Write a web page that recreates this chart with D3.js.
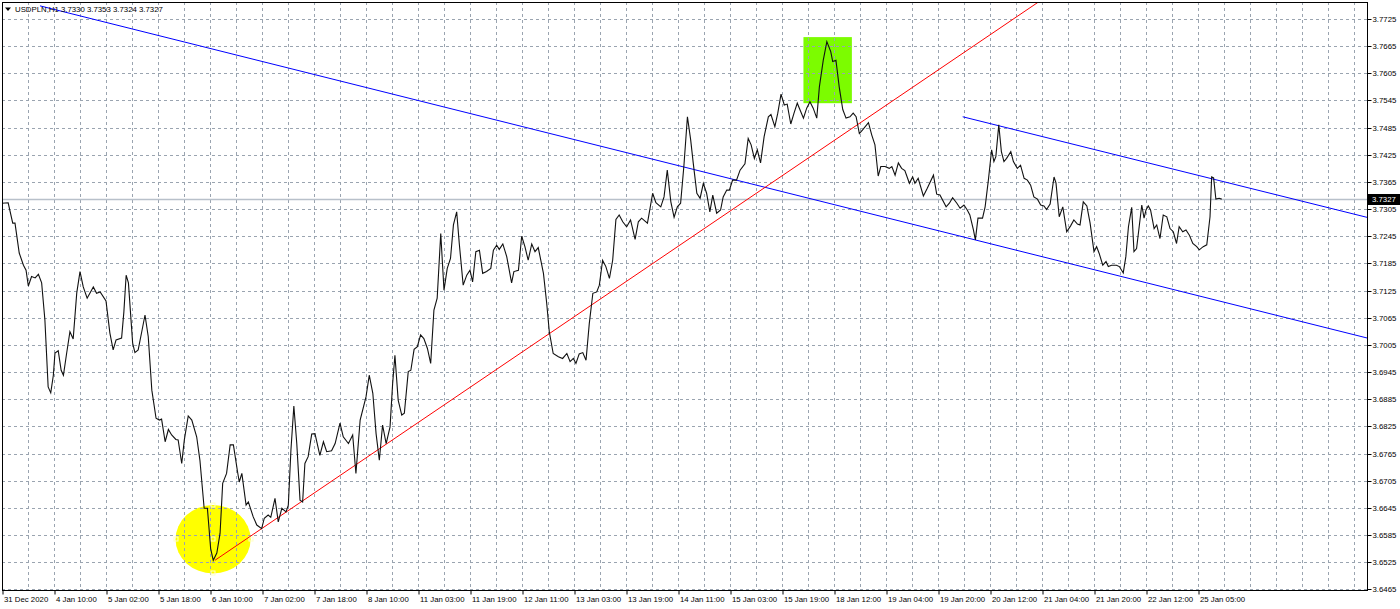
<!DOCTYPE html>
<html><head><meta charset="utf-8">
<script src="https://cdn.jsdelivr.net/npm/d3@7/dist/d3.min.js"></script>
<style>
html,body{margin:0;padding:0;background:#fff;overflow:hidden;}
svg{display:block;}
text{font-family:"Liberation Sans",Arial,sans-serif;}
</style>
</head><body>
<svg id="chart" width="1400" height="609"></svg>
<script>
// ---------------- DATA ----------------
const symbolTitle = "USDPLN,H1";
const titleQuotes = ["3.7330", "3.7353", "3.7324", "3.7327"];
const lastPrice = 3.7327;

const timeLabels = ["31 Dec 2020","4 Jan 10:00","5 Jan 02:00","5 Jan 18:00","6 Jan 10:00","7 Jan 02:00",
  "7 Jan 18:00","8 Jan 10:00","11 Jan 03:00","11 Jan 19:00","12 Jan 11:00","13 Jan 03:00","13 Jan 19:00",
  "14 Jan 11:00","15 Jan 03:00","15 Jan 19:00","18 Jan 12:00","19 Jan 04:00","19 Jan 20:00","20 Jan 12:00",
  "21 Jan 04:00","21 Jan 20:00","22 Jan 12:00","25 Jan 05:00"];
const barsPerLabel = 16;
const barsPerGrid = 8;
const totalBars = 420;

const priceTicks = ["3.7725","3.7665","3.7605","3.7545","3.7485","3.7425","3.7365","3.7305","3.7245",
  "3.7185","3.7125","3.7065","3.7005","3.6945","3.6885","3.6825","3.6765","3.6705","3.6645","3.6585",
  "3.6525","3.6465"];

// bar position (hours from chart start) of each traced vertex
const bars = [0,1.9,3.3,4.0,5.3,6.6,7.4,8.1,9.1,10.2,11.2,12.2,13.2,14.2,15.0,15.8,16.3,17.3,18.2,18.9,
 19.9,20.9,21.9,23.0,24.0,25.0,26.2,28.1,29.1,30.2,32.0,33.2,34.2,35.1,36.8,37.5,38.2,38.9,40.2,40.9,
 41.9,43.0,44.0,45.0,46.1,47.4,48.4,49.1,50.2,51.2,52.2,53.5,54.2,55.3,56.1,57.3,58.4,59.9,60.9,62.2,
 63.2,64.2,65.0,66.1,67.1,67.9,69.1,70.2,71.2,72.4,73.0,73.8,75.1,75.8,77.3,78.4,79.9,80.7,81.9,82.7,
 84.0,85.0,86.1,87.4,88.1,88.9,89.8,90.7,91.7,92.5,93.2,94.2,95.3,96.3,97.8,98.9,99.9,101.4,102.5,104.0,
 105.0,106.6,107.9,108.9,110.2,112.0,113.0,114.1,115.1,116.1,117.1,118.2,119.4,120.2,120.9,121.9,123.0,123.8,125.0,125.8,
 126.8,127.8,128.8,129.8,130.9,131.9,132.9,133.9,135.0,136.0,137.0,138.0,138.9,139.9,140.7,141.9,143.0,144.0,144.8,145.8,
 146.9,147.9,149.1,150.4,151.2,152.2,153.0,154.1,155.3,156.8,157.5,158.9,159.9,160.9,161.9,163.0,164.0,165.0,166.6,167.6,
 168.4,169.6,171.2,172.5,173.8,174.8,175.8,176.6,177.6,178.7,179.7,180.7,181.8,183.0,183.8,184.8,185.8,186.9,187.9,188.9,
 189.9,191.0,192.2,193.4,194.8,195.8,196.8,198.6,200.2,201.2,202.7,203.7,204.7,205.8,206.8,207.8,208.8,209.8,210.9,211.9,
 212.7,213.8,214.8,215.8,216.8,217.8,218.7,219.9,221.1,221.9,223.0,223.8,224.8,226.0,227.1,228.6,229.6,230.5,231.5,232.4,
 233.4,234.5,235.8,236.6,237.8,238.7,239.7,240.7,241.6,242.7,243.7,244.7,246.6,247.6,248.6,249.6,250.7,251.5,252.7,253.8,
 255.0,255.6,256.6,257.6,258.7,259.7,260.9,261.9,262.8,263.8,264.8,266.6,267.6,268.6,269.6,270.4,271.7,273.0,273.8,274.8,
 275.8,276.8,277.8,279.2,280.2,280.9,281.9,283.5,284.7,286.6,287.6,288.6,290.5,291.5,292.5,293.8,294.8,296.0,297.0,297.8,
 298.9,299.5,300.3,301.7,302.5,303.5,304.5,305.2,305.8,306.7,307.5,308.3,309.1,310.4,311.2,312.4,313.4,314.5,315.5,316.5,
 317.5,318.6,319.6,320.6,321.4,322.5,323.7,324.3,325.3,326.4,327.6,328.8,329.8,330.9,331.7,332.7,333.8,334.8,336.0,336.8,
 337.6,338.7,339.7,340.4,341.4,342.9,343.8,345.0,345.8,346.6,347.6,348.3,349.1,349.9,350.7,351.4,352.0,352.7,353.4,354.5,
 355.3,356.3,357.3,358.4,359.4,360.4,361.4,362.2,363.3,364.3,365.3,366.4,367.6,368.4,369.6,370.7,371.7,372.2,372.8,373.5,
 374.5,375.3];

const prices = [3.7318,3.7319,3.7274,3.7274,3.7208,3.7181,3.7170,3.7135,3.7156,3.7153,3.7161,3.7142,3.7060,3.6912,3.6899,3.6938,3.6987,3.6992,3.6949,3.6938,
 3.6987,3.7034,3.7018,3.7120,3.7167,3.7133,3.7108,3.7133,3.7119,3.7122,3.7102,3.7031,3.6994,3.7016,3.7020,3.7078,3.7159,3.7142,3.7009,3.6988,
 3.6994,3.7034,3.7071,3.7023,3.6905,3.6843,3.6839,3.6841,3.6791,3.6818,3.6806,3.6796,3.6795,3.6743,3.6795,3.6848,3.6839,3.6802,3.6750,3.6644,
 3.6644,3.6555,3.6529,3.6545,3.6589,3.6699,3.6721,3.6784,3.6784,3.6728,3.6702,3.6721,3.6651,3.6658,3.6625,3.6607,3.6599,3.6622,3.6629,3.6624,
 3.6666,3.6614,3.6644,3.6636,3.6651,3.6772,3.6870,3.6787,3.6662,3.6658,3.6743,3.6758,3.6808,3.6809,3.6761,3.6791,3.6769,3.6771,3.6787,3.6832,
 3.6802,3.6787,3.6806,3.6721,3.6839,3.6890,3.6938,3.6898,3.6809,3.6750,3.6828,3.6787,3.6824,3.6920,3.6982,3.6883,3.6850,3.6854,3.6946,3.6949,
 3.6995,3.7001,3.7027,3.7019,3.6997,3.6964,3.7082,3.7108,3.7251,3.7126,3.7174,3.7196,3.7270,3.7299,3.7229,3.7137,3.7159,3.7170,3.7144,3.7211,
 3.7214,3.7163,3.7167,3.7174,3.7214,3.7225,3.7216,3.7228,3.7200,3.7142,3.7167,3.7170,3.7245,3.7222,3.7192,3.7228,3.7211,3.7220,3.7163,3.7097,
 3.7034,3.6986,3.6979,3.6975,3.6986,3.6968,3.6975,3.6964,3.6985,3.6988,3.6971,3.7052,3.7119,3.7122,3.7137,3.7192,3.7178,3.7152,3.7192,3.7282,
 3.7292,3.7277,3.7266,3.7281,3.7238,3.7277,3.7285,3.7274,3.7340,3.7319,3.7310,3.7332,3.7391,3.7321,3.7287,3.7310,3.7318,3.7399,3.7509,3.7458,
 3.7406,3.7340,3.7329,3.7362,3.7340,3.7299,3.7336,3.7296,3.7303,3.7332,3.7347,3.7347,3.7369,3.7369,3.7391,3.7405,3.7461,3.7447,3.7417,3.7436,
 3.7407,3.7465,3.7509,3.7514,3.7487,3.7517,3.7559,3.7535,3.7537,3.7493,3.7517,3.7539,3.7506,3.7528,3.7542,3.7528,3.7506,3.7575,3.7634,3.7675,
 3.7653,3.7631,3.7634,3.7575,3.7525,3.7506,3.7509,3.7517,3.7509,3.7472,3.7480,3.7496,3.7469,3.7447,3.7378,3.7399,3.7399,3.7395,3.7399,3.7380,
 3.7407,3.7395,3.7390,3.7362,3.7376,3.7362,3.7373,3.7334,3.7351,3.7380,3.7338,3.7336,3.7310,3.7318,3.7330,3.7318,3.7307,3.7314,3.7303,3.7292,
 3.7259,3.7237,3.7285,3.7285,3.7310,3.7369,3.7436,3.7410,3.7421,3.7491,3.7432,3.7410,3.7417,3.7432,3.7410,3.7395,3.7402,3.7373,3.7369,3.7358,
 3.7332,3.7327,3.7314,3.7312,3.7304,3.7316,3.7376,3.7363,3.7288,3.7310,3.7255,3.7268,3.7281,3.7272,3.7270,3.7321,3.7312,3.7274,3.7211,3.7222,
 3.7207,3.7181,3.7189,3.7178,3.7181,3.7181,3.7178,3.7164,3.7200,3.7266,3.7309,3.7211,3.7218,3.7266,3.7314,3.7285,3.7303,3.7312,3.7303,3.7262,
 3.7270,3.7240,3.7292,3.7288,3.7262,3.7255,3.7229,3.7266,3.7255,3.7259,3.7248,3.7229,3.7222,3.7215,3.7222,3.7226,3.7288,3.7376,3.7374,3.7327,
 3.7329,3.7327];

// chart objects (anchor bar, anchor price)
const redTrendBars = [65.5, 304];
const redTrendPrices = [3.6529, 3.7690];
const blueLowerBars = [11.7, 299.4];
const blueLowerPrices = [3.7754, 3.7237];
const blueUpperBars = [295.6, 372.3];
const blueUpperPrices = [3.7509, 3.7372];
const ellipseBars = [53.4, 76.5];
const ellipsePrices = [3.6651, 3.6500];
const rectBars = [246.6, 261.5];
const rectPrices = [3.7685, 3.7539];

// ---------------- DRAWING ----------------
const W = 1400, H = 609;
const plot = {left: 2, right: 1367, top: 2, bottom: 590};
const svg = d3.select("#chart");

const x = d3.scaleLinear().domain([0, totalBars]).range([plot.left, plot.right]);
const y = d3.scaleLinear().domain([3.6465, 3.7725]).range([589.3, 19]);
const crisp = v => Math.round(v) + 0.5;

svg.append("rect").attr("width", W).attr("height", H).attr("fill", "#fff");

svg.append("defs").append("clipPath").attr("id", "plotClip")
  .append("rect").attr("x", plot.left).attr("y", plot.top)
  .attr("width", plot.right - plot.left).attr("height", plot.bottom - plot.top);

const g = svg.append("g").attr("clip-path", "url(#plotClip)");

// filled objects (background)
g.append("ellipse")
  .attr("cx", (x(ellipseBars[0]) + x(ellipseBars[1])) / 2)
  .attr("cy", (y(ellipsePrices[0]) + y(ellipsePrices[1])) / 2)
  .attr("rx", Math.abs(x(ellipseBars[1]) - x(ellipseBars[0])) / 2)
  .attr("ry", Math.abs(y(ellipsePrices[1]) - y(ellipsePrices[0])) / 2)
  .attr("fill", "#ffff00");

g.append("rect")
  .attr("x", x(rectBars[0])).attr("y", y(rectPrices[0]))
  .attr("width", x(rectBars[1]) - x(rectBars[0]))
  .attr("height", y(rectPrices[1]) - y(rectPrices[0]))
  .attr("fill", "#7cfc00");

// grid
const gridColor = "#9aa4b0";
const priceVals = priceTicks.map(Number);
g.append("g").selectAll("line").data(priceVals).join("line")
  .attr("x1", plot.left).attr("x2", plot.right)
  .attr("y1", d => crisp(y(d))).attr("y2", d => crisp(y(d)))
  .attr("stroke", gridColor).attr("stroke-width", 1).attr("stroke-dasharray", "3,3");

const gridBars = d3.range(barsPerGrid, totalBars, barsPerGrid);
g.append("g").selectAll("line").data(gridBars).join("line")
  .attr("x1", d => crisp(x(d))).attr("x2", d => crisp(x(d)))
  .attr("y1", plot.top).attr("y2", plot.bottom)
  .attr("stroke", gridColor).attr("stroke-width", 1).attr("stroke-dasharray", "3,3");

// last price line
g.append("line")
  .attr("x1", plot.left).attr("x2", plot.right)
  .attr("y1", crisp(y(lastPrice))).attr("y2", crisp(y(lastPrice)))
  .attr("stroke", "#b8c0ca").attr("stroke-width", 1.5);

// ellipse handles
const ecx = (x(ellipseBars[0]) + x(ellipseBars[1])) / 2;
const ecy = (y(ellipsePrices[0]) + y(ellipsePrices[1])) / 2;
const handles = [[ecx, y(ellipsePrices[0])], [ecx, y(ellipsePrices[1])], [x(ellipseBars[0]), ecy], [x(ellipseBars[1]), ecy], [ecx, ecy]];
g.append("g").selectAll("rect").data(handles).join("rect")
  .attr("x", d => Math.round(d[0]) - 2).attr("y", d => Math.round(d[1]) - 2)
  .attr("width", 4).attr("height", 4)
  .attr("fill", "none").attr("stroke", "#ffffc8").attr("stroke-width", 1);

// trend lines (rays to the right)
function ray(bs, ps, color) {
  const slope = (ps[1] - ps[0]) / (bs[1] - bs[0]);
  const endBar = totalBars + 5;
  const endPrice = ps[0] + slope * (endBar - bs[0]);
  g.append("line")
    .attr("x1", x(bs[0])).attr("y1", y(ps[0]))
    .attr("x2", x(endBar)).attr("y2", y(endPrice))
    .attr("stroke", color).attr("stroke-width", 1);
}
ray(blueLowerBars, blueLowerPrices, "#0000ff");
ray(blueUpperBars, blueUpperPrices, "#0000ff");
ray(redTrendBars, redTrendPrices, "#ff0000");

// price line
const pts = bars.map((b, i) => [b, prices[i]]);
g.append("path").datum(pts)
  .attr("d", d3.line().x(d => x(d[0])).y(d => y(d[1])))
  .attr("fill", "none").attr("stroke", "#111").attr("stroke-width", 1.1)
  .attr("stroke-linejoin", "miter");

// frame
svg.append("rect")
  .attr("x", plot.left + 0.5).attr("y", plot.top + 0.5)
  .attr("width", plot.right - plot.left).attr("height", plot.bottom - plot.top)
  .attr("fill", "none").attr("stroke", "#000").attr("stroke-width", 1);

// bottom time axis
const timeBars = timeLabels.map((_, i) => i * barsPerLabel);
const xAxis = d3.axisBottom(x).tickValues(timeBars)
  .tickFormat((d, i) => timeLabels[i]).tickSize(4).tickSizeOuter(0);
const gx = svg.append("g").attr("transform", `translate(0.5,${plot.bottom + 0.5})`).call(xAxis);
gx.select(".domain").remove();
gx.selectAll(".tick line").attr("stroke", "#000");
gx.selectAll(".tick text")
  .attr("text-anchor", "start").attr("x", 1).attr("y", 11.5).attr("dy", 0)
  .attr("font-size", "7.8px").attr("font-family", "\"Liberation Sans\",Arial,sans-serif").attr("fill", "#000");

// right price axis
const yAxis = d3.axisRight(y).tickValues(priceVals)
  .tickFormat((d, i) => priceTicks[i]).tickSize(4).tickSizeOuter(0);
const gy = svg.append("g").attr("transform", `translate(${plot.right + 0.5},0)`).call(yAxis);
gy.select(".domain").remove();
gy.selectAll(".tick").attr("transform", d => `translate(0,${crisp(y(d))})`);
gy.selectAll(".tick line").attr("stroke", "#000");
gy.selectAll(".tick text")
  .attr("x", 5).attr("dy", "0.35em")
  .attr("font-size", "7.8px").attr("font-family", "\"Liberation Sans\",Arial,sans-serif").attr("fill", "#000");

// last price box
const ly = crisp(y(lastPrice));
svg.append("rect").attr("x", plot.right + 1).attr("y", ly - 5.5).attr("width", W - plot.right - 1).attr("height", 11).attr("fill", "#000");
svg.append("text").attr("x", plot.right + 5).attr("y", ly).attr("dy", "0.35em")
  .attr("font-size", "7.8px").attr("fill", "#fff").text(String(lastPrice.toFixed(4)));

// title
svg.append("path").attr("d", "M5,7.5 L11,7.5 L8,11 Z").attr("fill", "#000");
svg.append("text").attr("x", 15).attr("y", 11.5)
  .attr("font-size", "7.8px").attr("fill", "#000")
  .text(symbolTitle + "  " + titleQuotes.join(" "));
</script>
</body></html>
